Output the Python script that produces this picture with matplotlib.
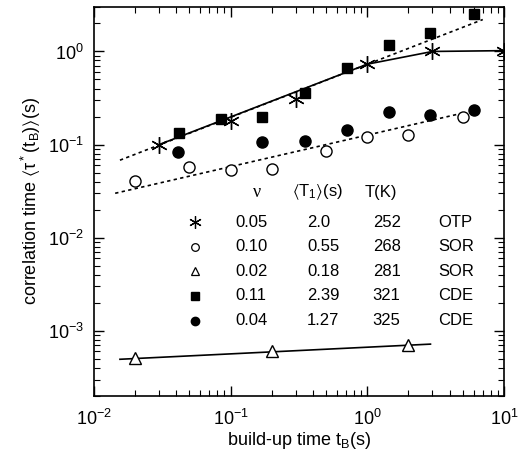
import matplotlib
matplotlib.use("agg")
from matplotlib import pyplot as plt
import numpy as np

plt.rcParams['font.family'] = ['Liberation Sans', 'DejaVu Sans']
plt.rcParams['mathtext.default'] = 'regular'

# OTP, 252 K (asterisks)
otp_t = [0.03, 0.10, 0.30, 1.0, 3.0, 10.0]
otp_tau = [0.10, 0.18, 0.31, 0.73, 1.0, 1.02]
# SOR, 268 K (open circles)
sor268_t = [0.02, 0.05, 0.10, 0.20, 0.50, 1.0, 2.0, 5.0]
sor268_tau = [0.041, 0.057, 0.054, 0.055, 0.085, 0.121, 0.128, 0.20]
# SOR, 281 K (open triangles)
sor281_t = [0.02, 0.20, 2.0]
sor281_tau = [5.1e-4, 6.05e-4, 7.0e-4]
# CDE, 321 K (filled squares)
cde321_t = [0.042, 0.085, 0.171, 0.35, 0.71, 1.45, 2.9, 6.0]
cde321_tau = [0.134, 0.19, 0.199, 0.356, 0.67, 1.17, 1.58, 2.5]
# CDE, 325 K (filled circles)
cde325_t = [0.0414, 0.171, 0.35, 0.71, 1.45, 2.9, 6.0]
cde325_tau = [0.083, 0.107, 0.109, 0.143, 0.222, 0.209, 0.233]

# guide lines
otp_dot_t = [0.0155, 7.0]
otp_dot_tau = [0.068, 2.2]
otp_solid_t = [0.03, 1.0, 3.0, 10.0]
otp_solid_tau = [0.10, 0.73, 1.0, 1.02]
sor268_dot_t = [0.0143, 5.0]
sor268_dot_tau = [0.030, 0.218]
sor281_line_t = [0.0155, 2.9]
sor281_line_tau = [4.95e-4, 7.2e-4]

# table of sample parameters
tab_nu = ["0.05", "0.10", "0.02", "0.11", "0.04"]
tab_T1 = ["2.0", "0.55", "0.18", "2.39", "1.27"]
tab_T = ["252", "268", "281", "321", "325"]
tab_name = ["OTP", "SOR", "SOR", "CDE", "CDE"]

asterisk = (6, 2, 0)
fig = plt.figure(figsize=(5.19, 4.68), dpi=100)
ax = fig.add_axes([0.181, 0.154, 0.790, 0.831])
ax.set_xscale('log')
ax.set_yscale('log')

dots = (0, (2, 2))
ax.plot(otp_dot_t, otp_dot_tau, color='black', ls=dots, lw=1.2)
ax.plot(otp_solid_t, otp_solid_tau, color='black', ls='-', lw=1.2)
ax.plot(sor268_dot_t, sor268_dot_tau, color='black', ls=dots, lw=1.2)
ax.plot(sor281_line_t, sor281_line_tau, color='black', ls='-', lw=1.2)

ax.plot(otp_t, otp_tau, ls='none', marker=asterisk, ms=12, mec='black', mew=1.0)
ax.plot(sor268_t, sor268_tau, ls='none', marker='o', ms=8, mfc='white', mec='black', mew=1.0)
ax.plot(sor281_t, sor281_tau, ls='none', marker='^', ms=8, mfc='white', mec='black', mew=1.0)
ax.plot(cde321_t, cde321_tau, ls='none', marker='s', ms=7, mfc='black', mec='black')
ax.plot(cde325_t, cde325_tau, ls='none', marker='o', ms=8, mfc='black', mec='black')

fs = 13
tfs = 12
markers = [dict(marker=asterisk, ms=9, mew=0.9, mec='black'),
           dict(marker='o', ms=5.5, mfc='white', mec='black', mew=0.9),
           dict(marker='^', ms=6, mfc='white', mec='black', mew=0.9),
           dict(marker='s', ms=5.5, mfc='black', mec='black'),
           dict(marker='o', ms=6, mfc='black', mec='black')]
row_y = [0.447, 0.384, 0.320, 0.257, 0.193]
head_y = 0.524
ax.text(0.398, head_y, 'ν', transform=ax.transAxes, fontsize=tfs + 1, ha='center', va='center',
        family=['Liberation Serif', 'DejaVu Serif'])
ax.text(0.483, head_y, r'$\langle$T$_1\rangle$(s)', transform=ax.transAxes, fontsize=tfs, ha='left', va='center')
ax.text(0.661, head_y, 'T(K)', transform=ax.transAxes, fontsize=tfs, ha='left', va='center')
for i in range(len(tab_nu)):
    ax.plot([0.246], [row_y[i]], transform=ax.transAxes, ls='none', **markers[i])
    ax.text(0.344, row_y[i], tab_nu[i], transform=ax.transAxes, fontsize=tfs, ha='left', va='center')
    ax.text(0.52, row_y[i], tab_T1[i], transform=ax.transAxes, fontsize=tfs, ha='left', va='center')
    ax.text(0.68, row_y[i], tab_T[i], transform=ax.transAxes, fontsize=tfs, ha='left', va='center')
    ax.text(0.839, row_y[i], tab_name[i], transform=ax.transAxes, fontsize=tfs, ha='left', va='center')

ax.set_xlim(1e-2, 1e1)
ax.set_ylim(2e-4, 3.0)
ax.set_xticks([1e-2, 1e-1, 1e0, 1e1])
ax.set_yticks([1e-3, 1e-2, 1e-1, 1e0])
ax.tick_params(which='both', direction='in', top=True, right=True, labelsize=fs)
ax.tick_params(axis='x', pad=9)
ax.tick_params(axis='y', pad=7)
ax.tick_params(which='major', length=7, width=1.0)
ax.tick_params(which='minor', length=4, width=0.8)
for s in ax.spines.values():
    s.set_linewidth(1.2)

ax.set_xlabel(r'build-up time t$_B$(s)', fontsize=fs, labelpad=1)
ax.set_ylabel(r'correlation time $\langle\tau^*$(t$_B$)$\rangle$(s)', fontsize=fs, labelpad=4)

plt.savefig("out.png", dpi=100)
